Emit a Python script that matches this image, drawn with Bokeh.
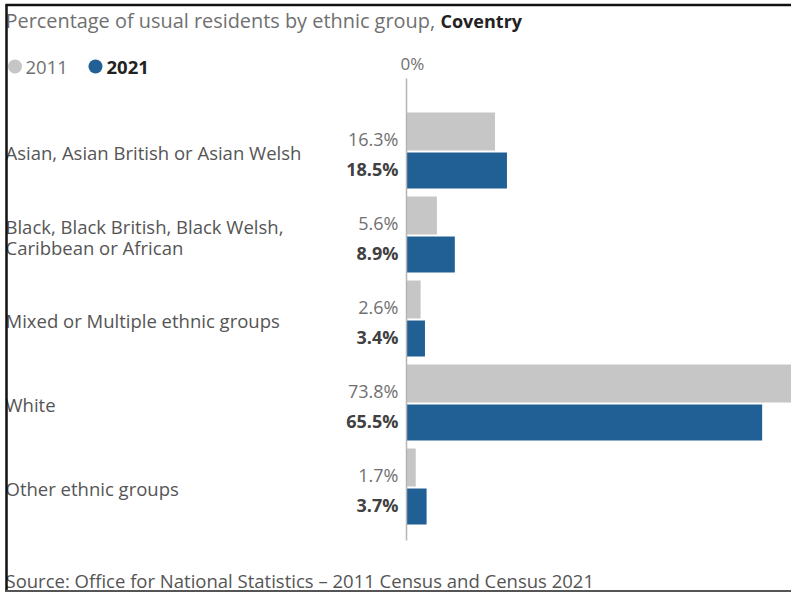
from bokeh.plotting import figure
from bokeh.models import Range1d, ColumnDataSource
from bokeh.core.properties import value
from bokeh.embed import file_html
from bokeh.resources import INLINE

categories = [
    "Asian, Asian British or Asian Welsh",
    "Black, Black British, Black Welsh,\nCaribbean or African",
    "Mixed or Multiple ethnic groups",
    "White",
    "Other ethnic groups",
]
values_2011 = [16.3, 5.6, 2.6, 73.8, 1.7]
values_2021 = [18.5, 8.9, 3.4, 65.5, 3.7]
series_names = ["2011", "2021"]
area_name = "Coventry"

W, H = 791, 592
X0PX = 406.0   # pixel of 0%
XS = 5.43      # pixels per percent
Y0PX = 150.0   # pixel of first group centre
PITCH = 84.0   # pixels between groups

def X(px):
    return (px - X0PX) / XS

def Y(py):
    return (py - Y0PX) / PITCH

FONT = value("Open Sans")
GREY = "#c6c6c6"
BLUE = "#206095"
TXT_GREY = "#707070"
TXT_DARK = "#414042"

p = figure(width=W, height=H, output_backend="svg", toolbar_location=None,
           x_range=Range1d(X(0), X(W)), y_range=Range1d(Y(H), Y(0)),
           min_border=0, border_fill_color="white", background_fill_color="white")
p.axis.visible = False
p.grid.visible = False
p.outline_line_color = None

idx = list(range(len(categories)))
src = ColumnDataSource(dict(
    cat=categories,
    v11=values_2011,
    v21=values_2021,
    y11=[i - 19.0 / PITCH for i in idx],
    y21=[i + 20.0 / PITCH for i in idx],
    yl11=[i - 12.0 / PITCH for i in idx],
    yl21=[i + 18.0 / PITCH for i in idx],
    t11=[f"{v:.1f}%" for v in values_2011],
    t21=[f"{v:.1f}%" for v in values_2021],
))

p.hbar(y="y11", left=0, right="v11", height=38.0 / PITCH, source=src,
       fill_color=GREY, line_color=None)
p.hbar(y="y21", left=0, right="v21", height=36.0 / PITCH, source=src,
       fill_color=BLUE, line_color=None)

# axis line at 0%
p.segment(x0=[0], y0=[Y(78)], x1=[0], y1=[Y(540)], line_color="#b5b5b5", line_width=1.5)
p.text(x=[X(400)], y=[Y(63)], text=["0%"], text_font=FONT, text_font_size="17px",
       text_color=TXT_GREY, text_align="left", text_baseline="middle")

# category labels (multi-line labels split into separate rows)
LINE_H = 21.0
cat_rows, cat_y = [], []
for i, c in enumerate(categories):
    parts = c.split("\n")
    n = len(parts)
    for k, part in enumerate(parts):
        cat_rows.append(part)
        cat_y.append(i + (2.0 + (k - (n - 1) / 2.0) * LINE_H) / PITCH)
p.text(x=X(5), y=cat_y, text=cat_rows, text_font=FONT, text_font_size="18.5px",
       text_color="#555555", text_align="left", text_baseline="middle")

# value labels
p.text(x=X(398), y="yl11", text="t11", source=src, text_font=FONT, text_font_size="18px",
       text_color=TXT_GREY, text_align="right", text_baseline="middle")
p.text(x=X(398), y="yl21", text="t21", source=src, text_font=FONT, text_font_size="18px",
       text_color=TXT_DARK, text_font_style="bold", text_align="right", text_baseline="middle")

# title
p.text(x=[X(5)], y=[Y(20)], text=["Percentage of usual residents by ethnic group,"],
       text_font=FONT, text_font_size="19.9px", text_color=TXT_GREY,
       text_align="left", text_baseline="middle")
p.text(x=[X(440)], y=[Y(20)], text=[area_name], text_font=FONT, text_font_size="18px",
       text_color="#222222", text_font_style="bold", text_align="left", text_baseline="middle")

# legend
p.scatter(x=[X(14.5), X(95)], y=[Y(66), Y(66)], size=14, marker="circle",
          fill_color=[GREY, BLUE], line_color=None)
p.text(x=[X(25)], y=[Y(67)], text=[series_names[0]], text_font=FONT, text_font_size="18.5px",
       text_color=TXT_GREY, text_align="left", text_baseline="middle")
p.text(x=[X(106)], y=[Y(67)], text=[series_names[1]], text_font=FONT, text_font_size="18.5px",
       text_color="#222222", text_font_style="bold", text_align="left", text_baseline="middle")

# source
p.text(x=[X(5)], y=[Y(580)], text=["Source: Office for National Statistics \u2013 2011 Census and Census 2021"],
       text_font=FONT, text_font_size="18.5px", text_color="#555555",
       text_align="left", text_baseline="middle")

# frame lines of the screenshot
p.segment(x0=[X(5)], y0=[Y(4.5)], x1=[X(W)], y1=[Y(4.5)], line_color="#111111", line_width=2.5)
p.segment(x0=[X(6)], y0=[Y(4)], x1=[X(6)], y1=[Y(H)], line_color="#111111", line_width=2.5)
p.segment(x0=[X(5)], y0=[Y(590.5)], x1=[X(W)], y1=[Y(590.5)], line_color="#555555", line_width=2)

open("out.html", "w").write(file_html(p, INLINE))
